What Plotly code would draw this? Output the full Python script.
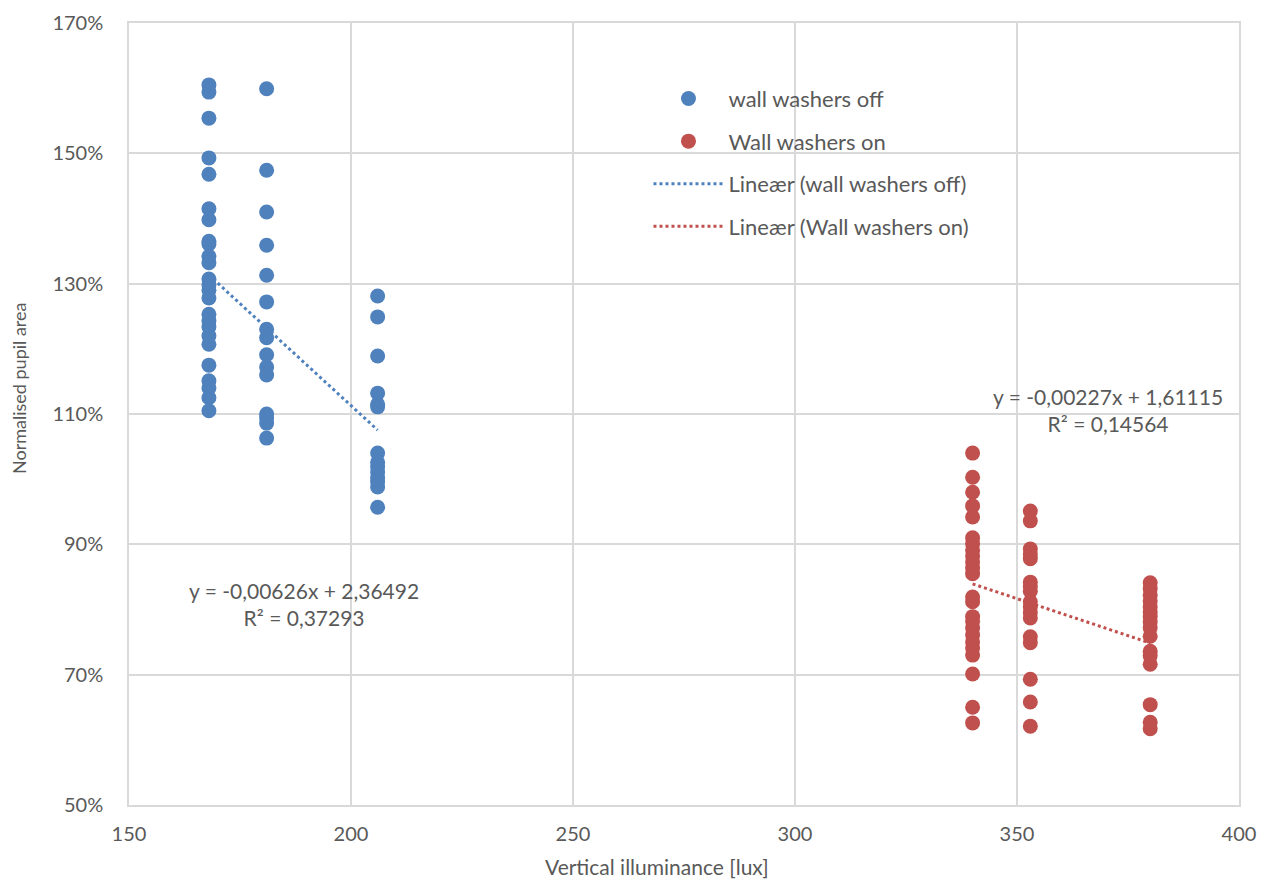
import numpy as np
import plotly.graph_objects as go

# Normalised pupil area (fraction) per vertical illuminance level
off_168 = [1.605, 1.594, 1.554, 1.493, 1.468, 1.415, 1.398, 1.365, 1.361, 1.342,
           1.332, 1.307, 1.298, 1.290, 1.278, 1.253, 1.243, 1.234, 1.220, 1.207,
           1.175, 1.151, 1.140, 1.125, 1.105]
off_181 = [1.599, 1.474, 1.410, 1.359, 1.313, 1.272, 1.230, 1.217, 1.191, 1.172,
           1.160, 1.100, 1.094, 1.086, 1.063]
off_206 = [1.281, 1.249, 1.189, 1.132, 1.115, 1.111, 1.040, 1.026, 1.019, 1.011,
           1.002, 0.996, 0.988, 0.957]

on_340 = [1.040, 1.003, 0.980, 0.959, 0.942, 0.910, 0.901, 0.891, 0.882, 0.873,
          0.864, 0.855, 0.819, 0.812, 0.789, 0.782, 0.772, 0.761, 0.750, 0.741,
          0.730, 0.701, 0.650, 0.626]
on_353 = [0.951, 0.936, 0.893, 0.885, 0.878, 0.842, 0.835, 0.828, 0.812, 0.804,
          0.795, 0.787, 0.758, 0.749, 0.693, 0.658, 0.621]
on_380 = [0.841, 0.832, 0.822, 0.813, 0.804, 0.796, 0.789, 0.781, 0.772, 0.759,
          0.736, 0.729, 0.716, 0.654, 0.627, 0.617]

off_x = [168] * len(off_168) + [181] * len(off_181) + [206] * len(off_206)
off_y = off_168 + off_181 + off_206
on_x = [340] * len(on_340) + [353] * len(on_353) + [380] * len(on_380)
on_y = on_340 + on_353 + on_380

# Linear trendline coefficients
off_slope, off_icpt, off_r2 = -0.00626, 2.36492, 0.37293
on_slope, on_icpt, on_r2 = -0.00227, 1.61115, 0.14564

x_title = "Vertical illuminance [lux]"
y_title = "Normalised pupil area"

BLUE = "#4F81BD"
RED = "#C0504D"
TXT = "#595959"
GRID = "#D9D9D9"
FONT = "Lato, Carlito, Calibri, sans-serif"

# Page and plot-area geometry (pixels)
W, H = 1268, 883
ML, MR, MT, MB = 129, 29, 23, 78
PW, PH = W - ML - MR, H - MT - MB


def px_to_paper(px, py):
    return (px - ML) / PW, (H - MB - py) / PH


def trend(xs, slope, icpt):
    x = np.array([min(xs), max(xs)], dtype=float)
    return x, slope * x + icpt


def fmt(v, nd):
    return f"{v:.{nd}f}".replace(".", ",")


fig = go.Figure()

fig.add_trace(go.Scatter(
    x=off_x, y=off_y, mode="markers", name="wall washers off",
    marker=dict(color=BLUE, size=15), legendgroup="a"))
fig.add_trace(go.Scatter(
    x=on_x, y=on_y, mode="markers", name="Wall washers on",
    marker=dict(color=RED, size=15), legendgroup="b"))

tx, ty = trend(off_x, off_slope, off_icpt)
fig.add_trace(go.Scatter(
    x=tx, y=ty, mode="lines", name="Lineær (wall washers off)",
    line=dict(color=BLUE, width=3, dash="dot"), legendgroup="c"))
tx, ty = trend(on_x, on_slope, on_icpt)
fig.add_trace(go.Scatter(
    x=tx, y=ty, mode="lines", name="Lineær (Wall washers on)",
    line=dict(color=RED, width=3, dash="dot"), legendgroup="d"))

eq_font = dict(family=FONT, size=21, color=TXT)
fig.add_annotation(
    x=189.5, y=0.808, xref="x", yref="y", showarrow=False, font=eq_font,
    text=f"y = {fmt(off_slope, 5)}x + {fmt(off_icpt, 5)}<br>R² = {fmt(off_r2, 5)}")
fig.add_annotation(
    x=370.5, y=1.106, xref="x", yref="y", showarrow=False, font=eq_font,
    text=f"y = {fmt(on_slope, 5)}x + {fmt(on_icpt, 5)}<br>R² = {fmt(on_r2, 5)}")

# Axis titles
ax, ay = px_to_paper(657, 867)
fig.add_annotation(
    x=ax, y=ay, xref="paper", yref="paper", xanchor="center", yanchor="middle",
    showarrow=False, text=x_title, borderpad=0,
    font=dict(family=FONT, size=21, color=TXT))
ax, ay = px_to_paper(19, 388)
fig.add_annotation(
    x=ax, y=ay, xref="paper", yref="paper", xanchor="center", yanchor="middle",
    showarrow=False, textangle=-90, text=y_title,
    font=dict(family=FONT, size=18, color=TXT))

fig.update_layout(
    width=W, height=H,
    margin=dict(l=ML, r=MR, t=MT, b=MB),
    paper_bgcolor="white", plot_bgcolor="white",
    font=dict(family=FONT, size=20, color=TXT),
    showlegend=True,
    legend=dict(
        x=0.468, y=0.93, xanchor="left", yanchor="top",
        bgcolor="rgba(0,0,0,0)", borderwidth=0,
        font=dict(family=FONT, size=22, color=TXT),
        tracegroupgap=11, itemwidth=70),
    xaxis=dict(
        range=[150, 400], dtick=50, tick0=150,
        showgrid=True, gridcolor=GRID, gridwidth=1.5,
        zeroline=False, showline=True, linecolor=GRID, linewidth=1.5,
        ticks="", ticklabelstandoff=10, tickfont=dict(size=20, color=TXT),
        automargin=False, mirror=True),
    yaxis=dict(
        range=[0.5, 1.7], dtick=0.2, tick0=0.5, tickformat=".0%",
        showgrid=True, gridcolor=GRID, gridwidth=1.5,
        zeroline=False, showline=True, linecolor=GRID, linewidth=1.5,
        ticks="", ticklabelstandoff=20, tickfont=dict(size=20, color=TXT),
        automargin=False, mirror=True),
)

fig.write_html("out.html")
